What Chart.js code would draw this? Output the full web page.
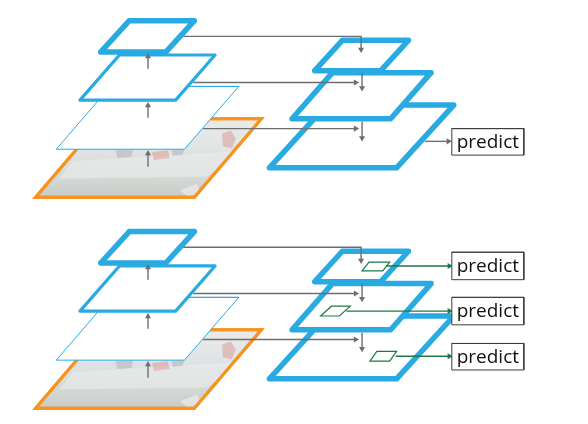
<!DOCTYPE html>
<html>
<head>
<meta charset="utf-8">
<script src="https://cdn.jsdelivr.net/npm/chart.js@4.4.1/dist/chart.umd.min.js"></script>
<style>
html, body { margin: 0; padding: 0; background: #fff; }
#wrap { width: 588px; height: 424px; }
</style>
</head>
<body>
<div id="wrap"><canvas id="fpn" width="588" height="424"></canvas></div>
<script>
// vertical shift of the two panels (top, bottom)
const panelShift = [0, 215];

// feature maps as [bottom-left x, top y, bottom y, width, slant]
const imageMap = [32, 117, 197, 161, 68];
const leftMaps = [
    [53, 84, 148, 130, 55],
    [77, 52, 98, 97, 40],
    [98, 17, 49, 66, 29]
];
const rightMaps = [
    [269, 103, 167, 129, 58],
    [292, 70, 117, 100, 41],
    [315, 37, 68, 67, 28]
];
// small anchor windows on the right maps (bottom panel only)
const anchorMaps = [
    [371, 354, 364, 20, 7],
    [321, 308, 318, 19, 11],
    [363, 263, 272, 21, 7]
];

// faded photo details inside the image map
const hullPatch = [[70, 160], [236, 150], [224, 164], [205, 176], [56, 178]];
const redPatches = [
    [[221, 132], [230, 129], [235, 137], [231, 147], [222, 145]],
    [[150, 151], [166, 149], [168, 157], [152, 159]]
];
const grayPatches = [
    [[113, 149], [131, 148], [129, 156], [115, 157]],
    [[170, 149], [183, 148], [181, 154], [171, 155]]
];
const wakePatch = [[178, 190], [196, 183], [199, 193], [186, 196]];

// arrows: x0, y0, x1, y1, ... with the tip last
const upArrows = [[146, 66, 146, 50], [146, 116, 146, 100], [146, 166, 146, 149]];
const lateralArrows = [[182, 33, 362, 33, 362, 50], [192, 80, 360, 80], [202, 127, 360, 127]];
const downArrows = [[363, 70, 363, 89], [363, 120, 363, 140]];
const singlePredictArrow = [427, 140, 454, 140];
const multiPredictArrows = [[397, 359, 455, 359], [347, 313, 455, 313], [388, 267, 455, 267]];

// predict boxes: left, top, right, bottom
const singleBox = [454, 127, 527, 154];
const multiBoxes = [[454, 253, 527, 281], [454, 299, 527, 327], [454, 346, 527, 373]];
const boxLabel = 'predict';

const BLUE = '#29abe2';
const ORANGE = '#f7931e';
const GRAY = '#6d6e71';
const GREEN = '#1b7a45';

function quadPoints(m, dy) {
    const [bl, t, b, w, s] = m;
    const p = [
        { x: bl + s, y: t + dy },
        { x: bl + s + w, y: t + dy },
        { x: bl + w, y: b + dy },
        { x: bl, y: b + dy }
    ];
    return [...p, p[0], p[1]];
}

function shape(points, stroke, width, fillColor, join) {
    return {
        data: points,
        borderColor: stroke,
        borderWidth: width,
        backgroundColor: fillColor,
        fill: fillColor ? 'shape' : false,
        borderJoinStyle: join || 'round',
        borderCapStyle: 'round',
        pointRadius: 0
    };
}

function patch(p, dy, color) {
    const pts = p.map(([x, y]) => ({ x: x, y: y + dy }));
    return shape([...pts, pts[0]], 'rgba(0,0,0,0)', 0, color);
}

function arrow(coords, dy, color) {
    const pts = [];
    for (let i = 0; i < coords.length; i += 2) pts.push({ x: coords[i], y: coords[i + 1] + dy });
    const a = pts[pts.length - 2], b = pts[pts.length - 1];
    const len = Math.hypot(b.x - a.x, b.y - a.y);
    const ux = (b.x - a.x) / len, uy = (b.y - a.y) / len;
    const head = 3.5;
    b.x -= ux * head;
    b.y -= uy * head;
    const rot = Math.atan2(ux, -uy) * 180 / Math.PI;
    return {
        data: pts,
        borderColor: color,
        borderWidth: 1.4,
        fill: false,
        pointStyle: 'triangle',
        pointRadius: pts.map((_, i) => i === pts.length - 1 ? head : 0),
        pointRotation: rot,
        pointBackgroundColor: color,
        pointBorderWidth: 0
    };
}

function box(r) {
    const [l, t, rr, b] = r;
    const p = [{ x: l, y: t }, { x: rr, y: t }, { x: rr, y: b }, { x: l, y: b }];
    return shape([...p, p[0], p[1]], '#3c3c3c', 1, '#ffffff', 'miter');
}

function photoFill(dy) {
    return function (ctx) {
        const chart = ctx.chart;
        if (!chart.chartArea) return '#e2e5e5';
        const y = chart.scales.y;
        const g = chart.ctx.createLinearGradient(0, y.getPixelForValue(imageMap[1] + dy), 0, y.getPixelForValue(imageMap[2] + dy));
        g.addColorStop(0, '#e9ebeb');
        g.addColorStop(0.4, '#e0e3e4');
        g.addColorStop(0.75, '#d4d9d6');
        g.addColorStop(1, '#c6ccc8');
        return g;
    };
}

const datasets = [];
panelShift.forEach((dy, panel) => {
    datasets.push(shape(quadPoints(imageMap, dy), ORANGE, 3, photoFill(dy), 'miter'));
    datasets.push(patch(hullPatch, dy, 'rgba(238,240,239,0.5)'));
    redPatches.forEach(p => datasets.push(patch(p, dy, 'rgba(214,96,86,0.3)')));
    grayPatches.forEach(p => datasets.push(patch(p, dy, 'rgba(110,116,122,0.22)')));
    datasets.push(patch(wakePatch, dy, 'rgba(248,248,248,0.5)'));
    datasets.push(shape(quadPoints(imageMap, dy), ORANGE, 3, null, 'miter'));
    datasets.push(shape(quadPoints(leftMaps[0], dy), BLUE, 1, '#ffffff', 'miter'));
    datasets.push(shape(quadPoints(leftMaps[1], dy), BLUE, 3.2, '#ffffff'));
    datasets.push(shape(quadPoints(leftMaps[2], dy), BLUE, 5.5, '#ffffff'));
    rightMaps.forEach(m => datasets.push(shape(quadPoints(m, dy), BLUE, 5.5, '#ffffff')));
    if (panel === 1) {
        anchorMaps.forEach(m => datasets.push(shape(quadPoints(m, 0), GREEN, 1.2, '#ffffff', 'miter')));
    }
    upArrows.forEach(a => datasets.push(arrow(a, dy, GRAY)));
    lateralArrows.forEach(a => datasets.push(arrow(a, dy, GRAY)));
    downArrows.forEach(a => datasets.push(arrow(a, dy, GRAY)));
    if (panel === 0) {
        datasets.push(arrow(singlePredictArrow, 0, GRAY));
        datasets.push(box(singleBox));
    } else {
        multiPredictArrows.forEach(a => datasets.push(arrow(a, 0, GREEN)));
        multiBoxes.forEach(r => datasets.push(box(r)));
    }
});
// first dataset in the list is painted first
datasets.forEach((d, i) => { d.order = datasets.length - i; d.clip = false; });

const labelPlugin = {
    id: 'boxLabels',
    afterDatasetsDraw(chart) {
        const c = chart.ctx, xs = chart.scales.x, ys = chart.scales.y;
        c.save();
        c.font = '19px "Open Sans", "Noto Sans", sans-serif';
        c.fillStyle = '#111';
        c.textAlign = 'center';
        c.textBaseline = 'middle';
        [singleBox, ...multiBoxes].forEach(r => {
            const cx = xs.getPixelForValue((r[0] + r[2]) / 2);
            const cy = ys.getPixelForValue((r[1] + r[3]) / 2);
            c.fillText(boxLabel, cx, cy + 0.5);
        });
        c.restore();
    }
};

new Chart(document.getElementById('fpn'), {
    type: 'line',
    data: { datasets: datasets },
    options: {
        responsive: false,
        animation: false,
        devicePixelRatio: 1,
        layout: { padding: 0 },
        elements: { line: { tension: 0 } },
        plugins: { legend: { display: false }, tooltip: { enabled: false } },
        scales: {
            x: { type: 'linear', min: 0, max: 588, display: false },
            y: { type: 'linear', min: 0, max: 424, reverse: true, display: false }
        }
    },
    plugins: [labelPlugin]
});
</script>
</body>
</html>
